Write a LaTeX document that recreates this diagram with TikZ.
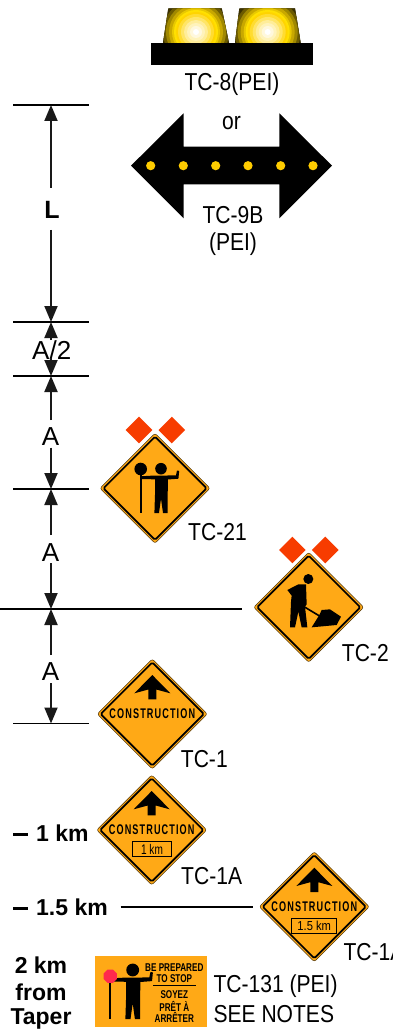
\documentclass[tikz,border=0pt]{standalone}
\usepackage{fontspec}
\setmainfont{Liberation Sans}
\newfontfamily\labf[FakeStretch=0.86]{Liberation Sans}
\newfontfamily\condf[FakeStretch=0.72]{Liberation Sans}
\newfontfamily\constf[FakeStretch=0.65,LetterSpace=8]{Liberation Sans}
\usetikzlibrary{arrows.meta}
\definecolor{signor}{HTML}{FFA916}
\definecolor{flagred}{HTML}{F73C00}
\definecolor{stopred}{HTML}{FF2A4D}
\definecolor{dotyel}{HTML}{FFCC00}
\tikzset{
  tick/.style={line width=1.9pt,black},
  dim/.style={line width=1.9pt,-{Triangle[length=16pt,width=13pt]},black!90},
  lab/.style={inner sep=0pt,font=\labf\fontsize{24.5}{24.5}\selectfont,anchor=west,black},
  labc/.style={lab,anchor=center},
  bigl/.style={inner sep=0pt,font=\fontsize{26}{26}\selectfont,black},
  boldl/.style={inner sep=0pt,font=\bfseries\fontsize{23}{23}\selectfont,black},
  consttext/.style={inner sep=0pt,font=\constf\bfseries\fontsize{14}{14}\selectfont,black},
  kmtext/.style={inner sep=0pt,font=\condf\fontsize{14}{14}\selectfont,black},
  kmtextb/.style={inner sep=0pt,font=\labf\fontsize{13}{13}\selectfont,black},
  smallb/.style={inner sep=0pt,font=\condf\bfseries\fontsize{11.3}{11.3}\selectfont,black},
}
\newcommand{\signbody}[2]{%
  \begin{scope}[shift={(#1,#2)}]
    \fill[signor,draw=black!70!signor,line width=.5pt,rounded corners=2.2pt] (0,-55)--(55,0)--(0,55)--(-55,0)--cycle;
    \draw[black,line width=1.7pt,rounded corners=1.6pt] (0,-51.6)--(51.6,0)--(0,51.6)--(-51.6,0)--cycle;
  \end{scope}}
\newcommand{\flags}[2]{%
  \begin{scope}[shift={(#1,#2)}]
    \fill[flagred] (-16.4,-13.3)--(-3.1,0)--(-16.4,13.3)--(-29.7,0)--cycle;
    \fill[flagred] (16.4,-13.3)--(29.7,0)--(16.4,13.3)--(3.1,0)--cycle;
  \end{scope}}
\newcommand{\constsign}[3]{%
  \signbody{#1}{#2}
  \begin{scope}[shift={(#1,#2)}]
    \fill[black] (0,-39)--(18,-20.7)--(4,-24.5)--(4,-14.7)--(-4,-14.7)--(-4,-24.5)--(-18,-20.7)--cycle;
    \node[consttext] (#3) at (0,0) {CONSTRUCTION};
  \end{scope}}
\newcommand{\flagger}[3]{%
  \begin{scope}[shift={(#1,#2)},scale=#3]
    \fill[black] (0,0) circle (5.8);
    \fill[black] (-21.4,0) rectangle (-19.2,44);
    \fill[black] (-20.3,7.6)--(-6.4,6.8)--(6.4,6.8)--(15,6.6)--(16,1.8)--(18.2,2.2)--(17.4,10)--(6.9,10.8)--(6.7,26)--(6.6,44.3)--(2,44.3)--(0,30)--(-2,44.3)--(-6.6,44.3)--(-6,26)--(-6,10.6)--(-20.3,10.4)--cycle;
  \end{scope}}
\begin{document}
\begin{tikzpicture}[x=1pt,y=-1pt]
\useasboundingbox (0,0) rectangle (393,1032);
\clip (0,0) rectangle (393,1032);
\fill[white] (0,0) rectangle (393,1032);

% ---- beacons
\begin{scope}
  \clip (168.3,8.3)--(221.7,8.3)--(229,43)--(163,43)--cycle;
  \foreach \r/\c in {40/2e2700,36/3a3000,33/6b5a00,30/a08800,27/c8a800,24/e8c800,22/ffe000,20/ffd400,18/ffdc30,15/ffe566,12/ffed99,9/fff3bb,6/fff8dd,3/ffffff}
    {\definecolor{ringc}{HTML}{\c}\fill[ringc] (196,32) circle (\r);}
\end{scope}
\begin{scope}
  \clip (239.3,8.3)--(295,8.3)--(300.7,43)--(235,43)--cycle;
  \foreach \r/\c in {40/2e2700,36/3a3000,33/6b5a00,30/a08800,27/c8a800,24/e8c800,22/ffe000,20/ffd400,18/ffdc30,15/ffe566,12/ffed99,9/fff3bb,6/fff8dd,3/ffffff}
    {\definecolor{ringc}{HTML}{\c}\fill[ringc] (267.7,32) circle (\r);}
\end{scope}
\fill[black] (151,43) rectangle (313,64.7);
\node[labc] (tc8) at (232,84.5) {TC-8(PEI)};

% ---- arrow board
\fill[black] (131,165.7)--(183.7,113.3)--(183.7,146.7)--(279.3,146.7)--(279.3,113.3)--(332,165.7)--(279.3,218.3)--(279.3,184.3)--(183.7,184.3)--(183.7,218.3)--cycle;
\foreach \x in {150.7,183.3,215.7,248,280.7,313} \fill[dotyel] (\x,165.7) circle (4.6);
\node[labc] (orl) at (231.5,123.5) {or};
\node[labc] (tc9a) at (233,215) {TC-9B};
\node[labc] (tc9b) at (233,244) {(PEI)};

% ---- dimension ticks
\coordinate (t1) at (51,105);
\coordinate (t2) at (51,322);
\coordinate (t3) at (51,376);
\coordinate (t4) at (51,489);
\coordinate (t5) at (51,609);
\coordinate (t6) at (51,723.5);
\draw[tick] (13,105)--(89,105);
\draw[tick] (13,322)--(89,322);
\draw[tick] (13,376)--(89,376);
\draw[tick] (13,489)--(89,489);
\draw[tick] (0,609)--(242,609);
\draw[tick] (13,723.5)--(89,723.5);

% ---- dimension labels
\node[boldl,font=\bfseries\fontsize{25}{25}\selectfont] (L) at (52,209.5) {L};
\node[bigl] (A2) at (51.7,350) {A/2};
\node[bigl] (Aa) at (50.5,436.5) {A};
\node[bigl] (Ab) at (50.5,552.5) {A};
\node[bigl] (Ac) at (50.5,672) {A};

\coordinate (la) at (51,188); \coordinate (lb) at (51,230);
\coordinate (h2a) at (51,340); \coordinate (h2b) at (51,358);
\coordinate (aa1) at (51,420); \coordinate (aa2) at (51,447.5);
\coordinate (ab1) at (51,535); \coordinate (ab2) at (51,563);
\coordinate (ac1) at (51,655); \coordinate (ac2) at (51,683);
\draw[dim] (la)--(t1);
\draw[dim] (lb)--(t2);
\draw[dim] (h2a)--(t2);
\draw[dim] (h2b)--(t3);
\draw[dim] (aa1)--(t3);
\draw[dim] (aa2)--(t4);
\draw[dim] (ab1)--(t4);
\draw[dim] (ab2)--(t5);
\draw[dim] (ac1)--(t5);
\draw[dim] (ac2)--(t6);

% ---- TC-21
\flags{155.4}{430}
\signbody{155}{488.3}
\fill[black] (140.7,469) circle (6.3);
\flagger{161}{468.7}{1}
\node[lab] (tc21) at (188,531.7) {TC-21};

% ---- TC-2
\flags{308.8}{550}
\signbody{308.7}{607.3}
\begin{scope}[shift={(280,565)},x=.3333pt,y=-.3333pt]
  \fill[black] (85,42) circle (15);
  \fill[black] (22,75)--(55,58)--(78,58)--(80,118)--(75,125)--(82,187)--(65,187)--(55,140)--(45,187)--(30,187)--(33,110)--(35,92)--(26,80)--cycle;
  \draw[black,line width=1.6pt] (72,125)--(122,155);
  \fill[black] (95,187)--(118,150)--(125,135)--(150,133)--(183,155)--(170,180)--cycle;
\end{scope}
\node[lab] (tc2) at (341.7,653) {TC-2};

% ---- TC-1
\constsign{152.3}{714}{ct1}
\node[lab] (tc1) at (180.7,759) {TC-1};

% ---- TC-1A, 1 km
\constsign{151.7}{830}{ct2}
\draw[black,line width=.8pt] (132.7,841) rectangle (171.7,856.7);
\node[kmtext] (km1in) at (152,849) {1 km};
\node[lab] (tc1a) at (181,875.7) {TC-1A};
\node[boldl,anchor=west] (km1) at (13,833) {\rule[5.6pt]{15pt}{2.4pt}\hspace{8pt}1 km};

% ---- TC-1A, 1.5 km
\constsign{314.3}{906.7}{ct3}
\draw[black,line width=.8pt] (291.7,918.3) rectangle (336.7,933.3);
\node[kmtextb] (km15in) at (314.2,926) {1.5 km};
\node[lab] (tc1b) at (343.3,951.7) {TC-1A};
\node[boldl,anchor=west] (km15) at (13,907) {\rule[5.6pt]{15pt}{2.4pt}\hspace{8pt}1.5 km};
\coordinate (ks) at (120.7,907.3);
\coordinate (ke) at (252.7,907.3);
\draw[tick] (ks)--(ke);

% ---- Taper
\node[boldl] (d2) at (41,965) {2 km};
\node[boldl] (d3) at (41,992) {from};
\node[boldl] (d4) at (41,1019) {Taper};

% ---- TC-131
\fill[signor] (95,956) rectangle (207.3,1026.7);
\flagger{132.7}{970}{1.11}
\fill[stopred] (110.3,970.7)++(22.5:7.2)--++(90:5.5)--++(135:5.5)--++(180:5.5)--++(225:5.5)--++(270:5.5)--++(315:5.5)--++(0:5.5)--cycle;
\node[smallb] (bp) at (174.3,967.3) {BE PREPARED};
\node[smallb] (ts) at (174.3,978.7) {TO STOP};
\coordinate (ula) at (153.3,985.7); \coordinate (ulb) at (195.7,985.7);
\draw[black,line width=.8pt] (ula)--(ulb);
\node[smallb] (so) at (174.3,994.3) {SOYEZ};
\node[smallb] (pr) at (174.3,1006) {PRÊT À};
\node[smallb] (ar) at (174.3,1017.7) {ARRÊTER};
\node[lab] (tc131) at (213.3,986) {TC-131 (PEI)};
\node[lab] (sn) at (213.3,1014) {SEE NOTES};
\end{tikzpicture}
\end{document}
